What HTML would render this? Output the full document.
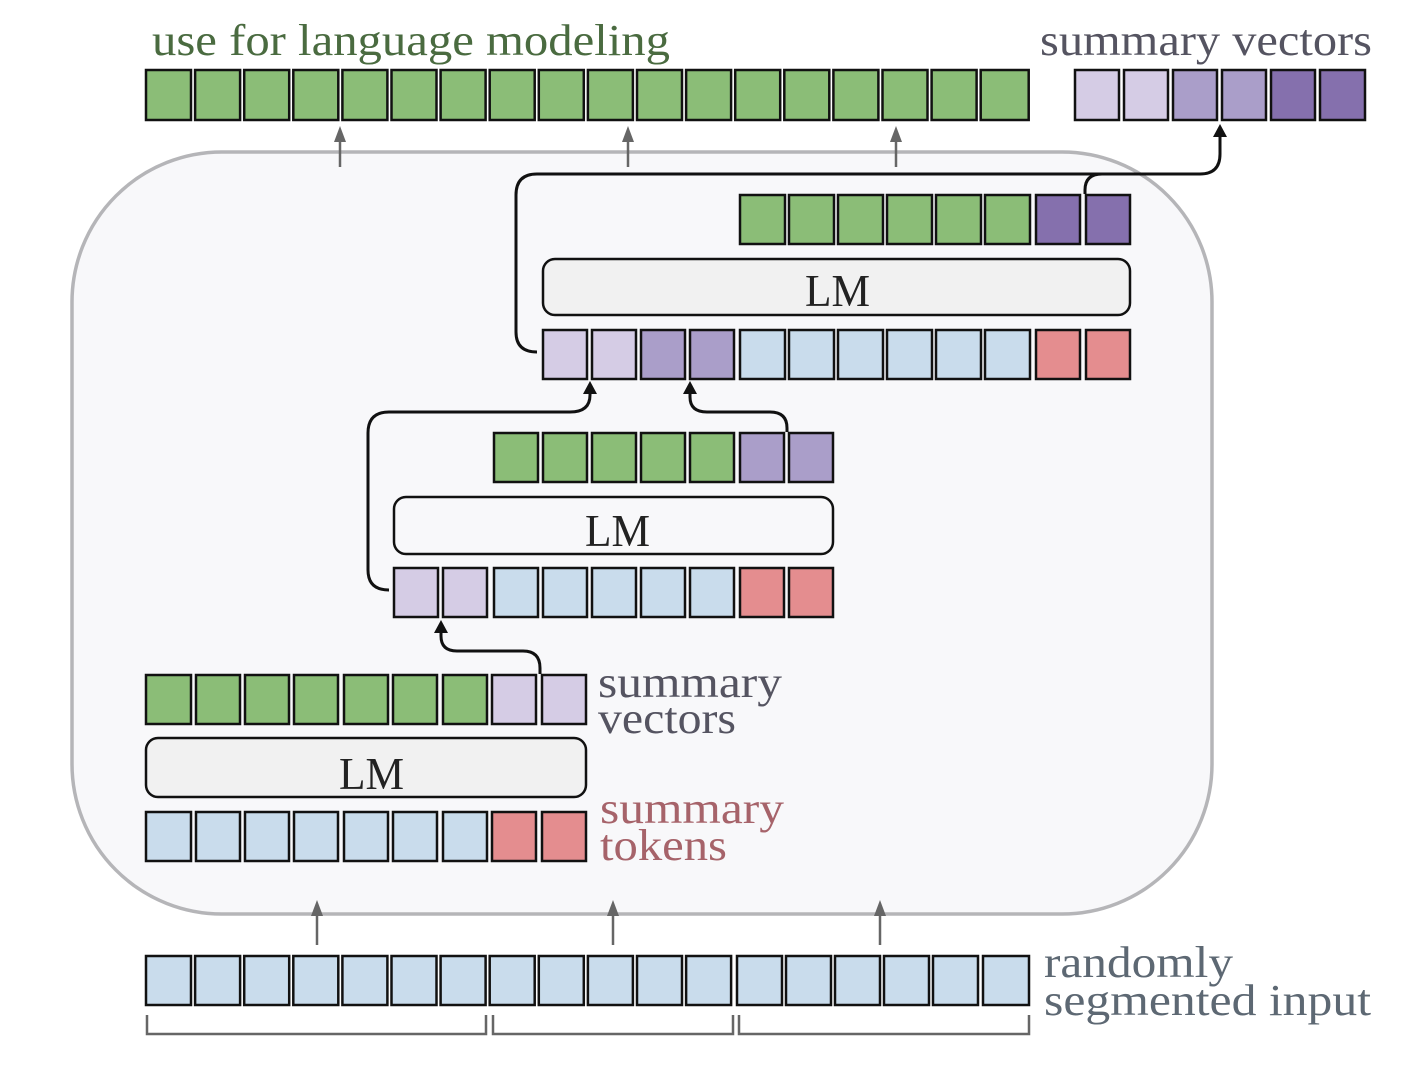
<!DOCTYPE html>
<html><head><meta charset="utf-8"><style>
html,body{margin:0;padding:0;background:#fff;}
svg{display:block;}
.s{stroke:#111;stroke-width:2.5;}
.g{fill:#8bbd77}.b{fill:#c9dcec}.r{fill:#e48d8f}.l{fill:#d5cce5}.m{fill:#aa9ec9}.d{fill:#8570ad}
.t{font-family:"Liberation Serif",serif;font-size:44px;}
.lm{font-family:"Liberation Serif",serif;font-size:46px;fill:#222;}
.c{fill:none;stroke:#111;stroke-width:3;}
.ga{stroke:#666;stroke-width:2.5;fill:none;}
</style></head><body>
<svg width="1428" height="1072" viewBox="0 0 1428 1072" xmlns="http://www.w3.org/2000/svg">
<rect x="72" y="152" width="1140" height="762" rx="150" fill="#f8f8fa" stroke="#b5b5b8" stroke-width="3.5"/>

<text x="152" y="55" class="t" fill="#4a6b40" textLength="518" lengthAdjust="spacingAndGlyphs">use for language modeling</text>
<text x="1040" y="55" class="t" fill="#555461" textLength="332" lengthAdjust="spacingAndGlyphs">summary vectors</text>

<g class="s">
<rect class="g" x="146" y="70" width="45" height="50"/>
<rect class="g" x="195.1" y="70" width="45" height="50"/>
<rect class="g" x="244.2" y="70" width="45" height="50"/>
<rect class="g" x="293.3" y="70" width="45" height="50"/>
<rect class="g" x="342.4" y="70" width="45" height="50"/>
<rect class="g" x="391.5" y="70" width="45" height="50"/>
<rect class="g" x="440.6" y="70" width="45" height="50"/>
<rect class="g" x="489.7" y="70" width="45" height="50"/>
<rect class="g" x="538.8" y="70" width="45" height="50"/>
<rect class="g" x="587.9" y="70" width="45" height="50"/>
<rect class="g" x="637" y="70" width="45" height="50"/>
<rect class="g" x="686.1" y="70" width="45" height="50"/>
<rect class="g" x="735.2" y="70" width="45" height="50"/>
<rect class="g" x="784.3" y="70" width="45" height="50"/>
<rect class="g" x="833.4" y="70" width="45" height="50"/>
<rect class="g" x="882.5" y="70" width="45" height="50"/>
<rect class="g" x="931.6" y="70" width="45" height="50"/>
<rect class="g" x="980.7" y="70" width="48" height="50"/>
<rect class="l" x="1075" y="70" width="44" height="50"/>
<rect class="l" x="1124" y="70" width="44" height="50"/>
<rect class="m" x="1173" y="70" width="44" height="50"/>
<rect class="m" x="1222" y="70" width="44" height="50"/>
<rect class="d" x="1271" y="70" width="44" height="50"/>
<rect class="d" x="1320" y="70" width="45" height="50"/>
</g>

<g class="ga">
<line x1="340" y1="167" x2="340" y2="138"/>
<line x1="628" y1="167" x2="628" y2="138"/>
<line x1="896" y1="167" x2="896" y2="138"/>
<line x1="317" y1="945" x2="317" y2="912"/>
<line x1="613" y1="945" x2="613" y2="912"/>
<line x1="880" y1="945" x2="880" y2="912"/>
</g>
<g fill="#666">
<polygon points="340,126 334,142 346,142"/>
<polygon points="628,126 622,142 634,142"/>
<polygon points="896,126 890,142 902,142"/>
<polygon points="317,900 311,916 323,916"/>
<polygon points="613,900 607,916 619,916"/>
<polygon points="880,900 874,916 886,916"/>
</g>

<g class="s">
<rect class="g" x="740" y="195" width="45" height="49"/>
<rect class="g" x="789" y="195" width="45" height="49"/>
<rect class="g" x="838" y="195" width="45" height="49"/>
<rect class="g" x="887" y="195" width="45" height="49"/>
<rect class="g" x="936" y="195" width="45" height="49"/>
<rect class="g" x="985" y="195" width="45" height="49"/>
<rect class="d" x="1036" y="195" width="44" height="49"/>
<rect class="d" x="1086" y="195" width="44" height="49"/>
<rect x="543" y="259" width="587" height="56" rx="12" fill="#f1f1f1"/>
<rect class="l" x="543" y="330" width="44" height="49"/>
<rect class="l" x="592" y="330" width="44" height="49"/>
<rect class="m" x="641" y="330" width="44" height="49"/>
<rect class="m" x="690" y="330" width="44" height="49"/>
<rect class="b" x="740" y="330" width="45" height="49"/>
<rect class="b" x="789" y="330" width="45" height="49"/>
<rect class="b" x="838" y="330" width="45" height="49"/>
<rect class="b" x="887" y="330" width="45" height="49"/>
<rect class="b" x="936" y="330" width="45" height="49"/>
<rect class="b" x="985" y="330" width="45" height="49"/>
<rect class="r" x="1036" y="330" width="44" height="49"/>
<rect class="r" x="1086" y="330" width="44" height="49"/>
</g>
<text x="805" y="306" class="lm" textLength="65" lengthAdjust="spacingAndGlyphs">LM</text>

<g class="s">
<rect class="g" x="494" y="433" width="44" height="49"/>
<rect class="g" x="543" y="433" width="44" height="49"/>
<rect class="g" x="592" y="433" width="44" height="49"/>
<rect class="g" x="641" y="433" width="44" height="49"/>
<rect class="g" x="690" y="433" width="44" height="49"/>
<rect class="m" x="740" y="433" width="44" height="49"/>
<rect class="m" x="789" y="433" width="44" height="49"/>
<rect x="394" y="497" width="439" height="57" rx="12" fill="#f8f8fa"/>
<rect class="l" x="394" y="568" width="44" height="49"/>
<rect class="l" x="443" y="568" width="44" height="49"/>
<rect class="b" x="494" y="568" width="44" height="49"/>
<rect class="b" x="543" y="568" width="44" height="49"/>
<rect class="b" x="592" y="568" width="44" height="49"/>
<rect class="b" x="641" y="568" width="44" height="49"/>
<rect class="b" x="690" y="568" width="44" height="49"/>
<rect class="r" x="740" y="568" width="44" height="49"/>
<rect class="r" x="789" y="568" width="44" height="49"/>
</g>
<text x="585" y="546" class="lm" textLength="65" lengthAdjust="spacingAndGlyphs">LM</text>

<g class="s">
<rect class="g" x="146" y="675" width="45" height="49"/>
<rect class="g" x="196" y="675" width="44" height="49"/>
<rect class="g" x="245" y="675" width="44" height="49"/>
<rect class="g" x="294" y="675" width="44" height="49"/>
<rect class="g" x="344" y="675" width="44" height="49"/>
<rect class="g" x="393" y="675" width="44" height="49"/>
<rect class="g" x="443" y="675" width="44" height="49"/>
<rect class="l" x="492" y="675" width="44" height="49"/>
<rect class="l" x="542" y="675" width="44" height="49"/>
<rect x="146" y="738" width="440" height="59" rx="12" fill="#f1f1f1"/>
<rect class="b" x="146" y="812" width="45" height="49"/>
<rect class="b" x="196" y="812" width="44" height="49"/>
<rect class="b" x="245" y="812" width="44" height="49"/>
<rect class="b" x="294" y="812" width="44" height="49"/>
<rect class="b" x="344" y="812" width="44" height="49"/>
<rect class="b" x="393" y="812" width="44" height="49"/>
<rect class="b" x="443" y="812" width="44" height="49"/>
<rect class="r" x="492" y="812" width="44" height="49"/>
<rect class="r" x="542" y="812" width="44" height="49"/>
</g>
<text x="339" y="789" class="lm" textLength="65" lengthAdjust="spacingAndGlyphs">LM</text>

<text x="598" y="697" class="t" fill="#555461" textLength="184" lengthAdjust="spacingAndGlyphs">summary</text>
<text x="598" y="733" class="t" fill="#555461" textLength="138" lengthAdjust="spacingAndGlyphs">vectors</text>
<text x="600" y="823" class="t" fill="#a6636a" textLength="184" lengthAdjust="spacingAndGlyphs">summary</text>
<text x="600" y="860" class="t" fill="#a6636a" textLength="127" lengthAdjust="spacingAndGlyphs">tokens</text>

<g class="s">
<rect class="b" x="146" y="956" width="45" height="49"/>
<rect class="b" x="195.1" y="956" width="45" height="49"/>
<rect class="b" x="244.2" y="956" width="45" height="49"/>
<rect class="b" x="293.3" y="956" width="45" height="49"/>
<rect class="b" x="342.4" y="956" width="45" height="49"/>
<rect class="b" x="391.5" y="956" width="45" height="49"/>
<rect class="b" x="440.6" y="956" width="45" height="49"/>
<rect class="b" x="489.7" y="956" width="45" height="49"/>
<rect class="b" x="538.8" y="956" width="45" height="49"/>
<rect class="b" x="587.9" y="956" width="45" height="49"/>
<rect class="b" x="637" y="956" width="45" height="49"/>
<rect class="b" x="686.1" y="956" width="45" height="49"/>
<rect class="b" x="737" y="956" width="45" height="49"/>
<rect class="b" x="786" y="956" width="45" height="49"/>
<rect class="b" x="835" y="956" width="45" height="49"/>
<rect class="b" x="884" y="956" width="45" height="49"/>
<rect class="b" x="933" y="956" width="45" height="49"/>
<rect class="b" x="983" y="956" width="46" height="49"/>
</g>
<g fill="none" stroke="#666" stroke-width="2.5">
<polyline points="147,1015 147,1034 486,1034 486,1015"/>
<polyline points="493,1015 493,1034 733,1034 733,1015"/>
<polyline points="739,1015 739,1034 1029,1034 1029,1015"/>
</g>
<text x="1044" y="977" class="t" fill="#5d6873" textLength="189" lengthAdjust="spacingAndGlyphs">randomly</text>
<text x="1044" y="1015" class="t" fill="#5d6873" textLength="327" lengthAdjust="spacingAndGlyphs">segmented input</text>

<g class="c">
<path d="M540,674 V668 Q540,651 523,651 H457 Q441,651 441,636 V628"/>
<path d="M389,590 Q368,590 368,570 V433 Q368,412 389,412 H570 Q590,412 590,395 V390"/>
<path d="M787,432 V428 Q787,412 770,412 H707 Q690,412 690,397 V390"/>
<path d="M537,352 Q516,352 516,332 V195 Q516,174 537,174 H1200 Q1220,174 1220,154 V133"/>
<path d="M1085,194 V190 Q1085,174 1102,174"/>
</g>
<g fill="#111">
<polygon points="441,620 434,633 448,633"/>
<polygon points="590,381 583,394 597,394"/>
<polygon points="690,381 683,394 697,394"/>
<polygon points="1220,124 1213,137 1227,137"/>
</g>
</svg>
</body></html>
